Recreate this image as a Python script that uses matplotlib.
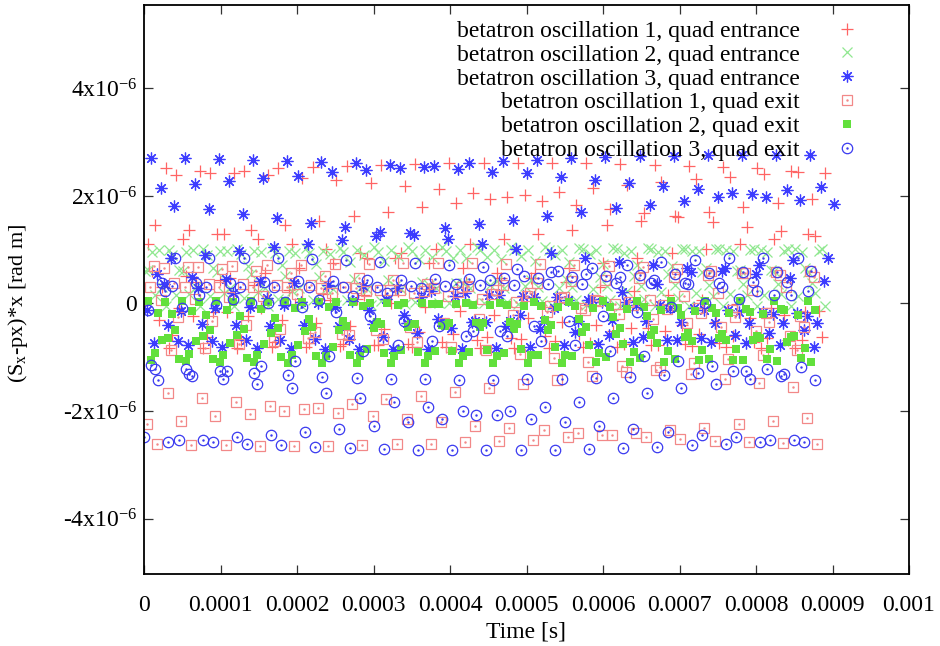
import numpy as np
import matplotlib
matplotlib.use("Agg")
import matplotlib.pyplot as plt

plt.rcParams['font.family'] = ['Liberation Serif', 'DejaVu Serif']
plt.rcParams['mathtext.fontset'] = 'custom'
plt.rcParams['mathtext.rm'] = 'Liberation Serif'
plt.rcParams['mathtext.it'] = 'Liberation Serif:italic'

# sampling of the tracking output: 10 samples make one pattern period
T_SAMPLE = 4.47e-6
N_TRACKS = 10
EXIT_END = 0.000881

# values in units of 1e-6 rad m, one list per sample slot j (sample n = j + 10*i)
osc1_entrance = [
    [-0.01, -0.09, -0.16, -0.23, -0.30, -0.36, -0.42, -0.47, -0.53, -0.57, -0.62, -0.66, -0.70, -0.73, -0.75, -0.78, -0.79, -0.81, -0.82, -0.82],
    [1.11, 1.20, 1.29, 1.37, 1.46, 1.54, 1.63, 1.71, 1.79, 1.86, 1.94, 2.01, 2.07, 2.14, 2.20, 2.26, 2.31, 2.36, 2.40, 2.45],
    [0.60, 0.51, 0.43, 0.34, 0.26, 0.17, 0.09, 0.01, -0.06, -0.14, -0.21, -0.27, -0.34, -0.40, -0.46, -0.51, -0.56, -0.61, -0.65, -0.68],
    [1.46, 1.37, 1.29, 1.20, 1.11, 1.02, 0.93, 0.84, 0.75, 0.66, 0.57, 0.48, 0.40, 0.31, 0.23, 0.15, 0.07, -0.01, -0.09, -0.16],
    [-0.30, -0.23, -0.16, -0.09, -0.01, 0.07, 0.15, 0.23, 0.31, 0.40, 0.48, 0.57, 0.66, 0.75, 0.84, 0.93, 1.02, 1.11, 1.20, 1.29],
    [0.31, 0.40, 0.48, 0.57, 0.66, 0.75, 0.84, 0.93, 1.02, 1.11, 1.20, 1.29, 1.37, 1.46, 1.54, 1.63, 1.71, 1.79, 1.86, 1.94],
    [2.51, 2.47, 2.43, 2.39, 2.34, 2.29, 2.24, 2.18, 2.12, 2.05, 1.98, 1.91, 1.84, 1.76, 1.68, 1.60, 1.52, 1.43, 1.35, 1.26],
    [-0.82, -0.82, -0.82, -0.81, -0.80, -0.79, -0.77, -0.75, -0.72, -0.68, -0.65, -0.60, -0.56, -0.51, -0.46, -0.40, -0.34, -0.27, -0.21, -0.14],
    [-0.59, -0.63, -0.67, -0.71, -0.74, -0.76, -0.78, -0.80, -0.81, -0.82, -0.82, -0.82, -0.81, -0.80, -0.78, -0.76, -0.74, -0.71, -0.67, -0.63],
    [2.39, 2.43, 2.47, 2.51, 2.54, 2.56, 2.58, 2.60, 2.61, 2.62, 2.62, 2.62, 2.61, 2.60, 2.58, 2.56, 2.54, 2.51, 2.47, 2.43],
]

osc2_entrance = [
    [0.61, 0.63, 0.66, 0.69, 0.72, 0.74, 0.77, 0.79, 0.82, 0.84, 0.86, 0.88, 0.90, 0.92, 0.94, 0.96, 0.97, 0.99, 1.00, 1.01],
    [0.63, 0.61, 0.58, 0.55, 0.52, 0.49, 0.46, 0.43, 0.40, 0.38, 0.35, 0.32, 0.29, 0.27, 0.24, 0.22, 0.19, 0.17, 0.15, 0.13],
    [0.95, 0.96, 0.97, 0.97, 0.98, 0.98, 0.99, 0.99, 1.00, 1.00, 1.00, 1.00, 0.99, 0.99, 0.98, 0.98, 0.97, 0.97, 0.96, 0.95],
    [0.15, 0.17, 0.19, 0.22, 0.24, 0.27, 0.29, 0.32, 0.35, 0.38, 0.41, 0.43, 0.46, 0.49, 0.52, 0.55, 0.58, 0.61, 0.63, 0.66],
    [1.00, 0.99, 0.97, 0.96, 0.94, 0.92, 0.90, 0.88, 0.86, 0.84, 0.82, 0.79, 0.77, 0.74, 0.72, 0.69, 0.66, 0.63, 0.61, 0.58],
    [0.31, 0.30, 0.29, 0.28, 0.28, 0.27, 0.27, 0.27, 0.28, 0.28, 0.29, 0.30, 0.31, 0.32, 0.33, 0.34, 0.35, 0.36, 0.37, 0.38],
    [-0.05, -0.05, -0.05, -0.04, -0.04, -0.03, -0.02, -0.01, 0.00, 0.01, 0.02, 0.04, 0.06, 0.07, 0.09, 0.11, 0.13, 0.15, 0.18, 0.20],
    [1.00, 1.01, 1.02, 1.03, 1.04, 1.04, 1.05, 1.05, 1.05, 1.05, 1.05, 1.05, 1.04, 1.03, 1.03, 1.02, 1.01, 0.99, 0.98, 0.97],
    [0.90, 0.91, 0.92, 0.93, 0.94, 0.95, 0.96, 0.97, 0.98, 0.99, 1.00, 1.00, 1.01, 1.01, 1.02, 1.02, 1.02, 1.02, 1.02, 1.02],
    [0.15, 0.13, 0.11, 0.09, 0.07, 0.06, 0.04, 0.02, 0.01, 0.00, -0.01, -0.02, -0.03, -0.04, -0.04, -0.05, -0.05, -0.05, -0.05, -0.05],
]

osc3_entrance = [
    [-0.12, -0.14, -0.09, -0.06, -0.03, 0.01, 0.05, 0.09, 0.12, 0.14, 0.15, 0.14, 0.12, 0.08, 0.03, -0.03, -0.08, -0.12, -0.16, -0.18],
    [2.71, 2.71, 2.69, 2.67, 2.65, 2.63, 2.61, 2.58, 2.54, 2.50, 2.45, 2.43, 2.35, 2.30, 2.24, 2.19, 2.13, 2.06, 1.98, 1.93, 1.85],
    [-0.74, -0.77, -0.80, -0.82, -0.83, -0.84, -0.85, -0.85, -0.85, -0.84, -0.82, -0.80, -0.78, -0.75, -0.72, -0.68, -0.64, -0.59, -0.54, -0.49],
    [0.55, 0.50, 0.46, 0.42, 0.38, 0.35, 0.32, 0.28, 0.24, 0.20, 0.16, 0.12, 0.07, 0.02, -0.03, -0.08, -0.12, -0.16, -0.20, -0.24],
    [2.15, 2.22, 2.28, 2.33, 2.37, 2.45, 2.48, 2.52, 2.56, 2.61, 2.65, 2.67, 2.71, 2.72, 2.74, 2.74, 2.76, 2.76, 2.76, 2.76],
    [0.36, 0.28, 0.19, 0.11, 0.02, -0.06, -0.13, -0.21, -0.28, -0.35, -0.41, -0.47, -0.53, -0.58, -0.62, -0.67, -0.71, -0.74, -0.77, -0.80],
    [-0.40, -0.38, -0.40, -0.41, -0.40, -0.41, -0.38, -0.36, -0.35, -0.33, -0.33, -0.32, -0.33, -0.30, -0.33, -0.35, -0.36, -0.36, -0.37, -0.36],
    [0.85, 0.90, 0.98, 1.05, 1.11, 1.18, 1.26, 1.31, 1.40, 1.48, 1.55, 1.63, 1.70, 1.78, 1.83, 1.90, 1.98, 2.04, 2.11, 2.17],
    [1.81, 1.76, 1.67, 1.59, 1.50, 1.42, 1.33, 1.27, 1.20, 1.11, 1.02, 0.93, 0.85, 0.78, 0.72, 0.66, 0.60, 0.54, 0.48, 0.42],
    [-0.70, -0.70, -0.68, -0.68, -0.66, -0.66, -0.62, -0.55, -0.46, -0.35, -0.22, -0.08, 0.07, 0.22, 0.37, 0.59, 0.66, 0.72, 0.81, 0.85],
]

osc1_exit = [
    [-2.25, -2.19, -2.10, -2.05, -2.00, -1.94, -1.87, -1.78, -1.72, -1.65, -1.57, -1.50, -1.43, -1.35, -1.27, -1.19, -1.11, -1.03, -0.95, -0.87],
    [0.30, 0.31, 0.31, 0.30, 0.30, 0.29, 0.28, 0.26, 0.24, 0.21, 0.18, 0.14, 0.10, 0.06, 0.02, -0.03, -0.08, -0.13, -0.18, -0.23],
    [0.69, 0.67, 0.64, 0.60, 0.57, 0.52, 0.48, 0.43, 0.37, 0.31, 0.25, 0.19, 0.12, 0.05, -0.02, -0.10, -0.18, -0.26, -0.34, -0.43],
    [-2.62, -2.63, -2.64, -2.65, -2.65, -2.65, -2.64, -2.62, -2.61, -2.58, -2.56, -2.53, -2.49, -2.45, -2.41, -2.36, -2.31, -2.25, -2.19, -2.13],
    [0.07, 0.09, 0.12, 0.14, 0.17, 0.20, 0.23, 0.26, 0.29, 0.32, 0.35, 0.38, 0.41, 0.44, 0.47, 0.50, 0.53, 0.56, 0.58, 0.60],
    [0.66, 0.68, 0.70, 0.71, 0.72, 0.73, 0.74, 0.75, 0.75, 0.75, 0.74, 0.73, 0.71, 0.69, 0.67, 0.64, 0.61, 0.57, 0.53, 0.49],
    [-1.67, -1.75, -1.83, -1.90, -1.97, -2.03, -2.09, -2.15, -2.21, -2.27, -2.32, -2.36, -2.40, -2.44, -2.48, -2.52, -2.55, -2.58, -2.60, -2.62],
    [-0.87, -0.82, -0.76, -0.70, -0.64, -0.57, -0.50, -0.43, -0.36, -0.29, -0.22, -0.15, -0.08, -0.01, 0.06, 0.13, 0.19, 0.25, 0.31, 0.37],
    [0.38, 0.37, 0.36, 0.35, 0.34, 0.30, 0.25, 0.20, 0.14, 0.08, 0.02, -0.05, -0.12, -0.20, -0.28, -0.36, -0.44, -0.52, -0.60, -0.68],
    [-0.25, -0.32, -0.40, -0.47, -0.53, -0.59, -0.66, -0.72, -0.80, -0.87, -0.94, -1.01, -1.09, -1.16, -1.24, -1.32, -1.40, -1.47, -1.55, -1.62],
]

osc2_exit = [
    [0.05, 0.05, 0.05, 0.04, 0.04, 0.03, 0.02, 0.01, 0.00, -0.01, -0.03, -0.04, -0.06, -0.08, -0.10, -0.12, -0.14, -0.17, -0.19, -0.21],
    [-1.06, -1.07, -1.08, -1.09, -1.10, -1.10, -1.11, -1.11, -1.11, -1.11, -1.11, -1.10, -1.10, -1.09, -1.09, -1.08, -1.06, -1.05, -1.04, -1.02],
    [-0.93, -0.94, -0.95, -0.96, -0.96, -0.97, -0.97, -0.98, -0.98, -0.98, -0.97, -0.96, -0.95, -0.93, -0.91, -0.89, -0.87, -0.85, -0.84, -0.83],
    [-0.17, -0.14, -0.12, -0.10, -0.08, -0.06, -0.04, -0.03, -0.01, 0.00, 0.01, 0.02, 0.03, 0.04, 0.04, 0.05, 0.05, 0.05, 0.05, 0.05],
    [-0.67, -0.70, -0.73, -0.76, -0.78, -0.81, -0.84, -0.86, -0.89, -0.91, -0.93, -0.95, -0.97, -0.99, -1.01, -1.03, -1.04, -1.06, -1.07, -1.08],
    [0.02, 0.03, 0.03, 0.03, 0.02, 0.02, 0.01, 0.00, -0.01, -0.02, -0.03, -0.04, -0.05, -0.06, -0.07, -0.08, -0.09, -0.10, -0.11, -0.12],
    [-0.64, -0.61, -0.58, -0.55, -0.52, -0.49, -0.46, -0.43, -0.40, -0.37, -0.34, -0.31, -0.29, -0.26, -0.23, -0.21, -0.18, -0.16, -0.13, -0.11],
    [-0.19, -0.21, -0.24, -0.27, -0.29, -0.32, -0.35, -0.38, -0.41, -0.44, -0.47, -0.50, -0.53, -0.56, -0.59, -0.62, -0.65, -0.68, -0.71, -0.74],
    [-0.50, -0.49, -0.47, -0.45, -0.43, -0.41, -0.39, -0.38, -0.37, -0.37, -0.38, -0.40, -0.43, -0.46, -0.50, -0.54, -0.57, -0.60, -0.62, -0.64],
    [-1.04, -1.03, -1.01, -0.99, -0.97, -0.95, -0.93, -0.91, -0.89, -0.86, -0.84, -0.81, -0.78, -0.76, -0.73, -0.70, -0.67, -0.64, -0.61, -0.58],
]

osc3_exit = [
    [-2.49, -2.54, -2.58, -2.61, -2.64, -2.67, -2.69, -2.71, -2.72, -2.73, -2.73, -2.73, -2.72, -2.71, -2.69, -2.67, -2.64, -2.61, -2.58, -2.54],
    [-0.13, -0.08, -0.03, 0.00, 0.03, 0.07, 0.13, 0.20, 0.28, 0.36, 0.44, 0.52, 0.60, 0.66, 0.72, 0.77, 0.81, 0.84, 0.85, 0.85],
    [-1.15, -1.22, -1.26, -1.30, -1.33, -1.36, -1.38, -1.40, -1.41, -1.42, -1.42, -1.41, -1.40, -1.38, -1.36, -1.33, -1.30, -1.26, -1.22, -1.18],
    [-1.22, -1.31, -1.40, -1.49, -1.58, -1.67, -1.75, -1.84, -1.92, -1.99, -2.07, -2.14, -2.21, -2.27, -2.33, -2.39, -2.44, -2.49, -2.54, -2.58],
    [-1.43, -1.34, -1.25, -1.16, -1.07, -0.97, -0.88, -0.78, -0.69, -0.60, -0.51, -0.42, -0.33, -0.24, -0.16, -0.07, 0.01, 0.09, 0.16, 0.23],
    [0.38, 0.38, 0.39, 0.40, 0.41, 0.42, 0.43, 0.44, 0.45, 0.46, 0.47, 0.48, 0.50, 0.51, 0.53, 0.55, 0.57, 0.58, 0.59, 0.60],
    [0.23, 0.16, 0.09, 0.01, -0.07, -0.16, -0.24, -0.33, -0.42, -0.51, -0.60, -0.69, -0.78, -0.88, -0.97, -1.07, -1.16, -1.25, -1.34, -1.43],
    [-2.58, -2.54, -2.49, -2.44, -2.39, -2.33, -2.27, -2.21, -2.14, -2.07, -1.99, -1.92, -1.84, -1.75, -1.67, -1.58, -1.49, -1.40, -1.31, -1.22],
    [0.32, 0.31, 0.31, 0.30, 0.30, 0.30, 0.31, 0.32, 0.33, 0.34, 0.35, 0.36, 0.37, 0.38, 0.38, 0.39, 0.39, 0.40, 0.40, 0.40],
    [0.85, 0.85, 0.85, 0.84, 0.82, 0.80, 0.78, 0.75, 0.72, 0.68, 0.64, 0.59, 0.54, 0.49, 0.43, 0.37, 0.30, 0.23, 0.16, 0.09],
]

# time of the first sample of each data set [s]
t_first = {
    'osc1_entrance': 1.3e-6, 'osc2_entrance': 1.3e-6, 'osc3_entrance': 4.05e-6,
    'osc1_exit': 3.9e-6, 'osc2_exit': 5.2e-6, 'osc3_exit': 0.65e-6,
}

labels = [
    'betatron oscillation 1, quad entrance',
    'betatron oscillation 2, quad entrance',
    'betatron oscillation 3, quad entrance',
    'betatron oscillation 1, quad exit',
    'betatron oscillation 2, quad exit',
    'betatron oscillation 3, quad exit',
]


def samples(tracks, t0, t_end=None):
    t, y = [], []
    for j, track in enumerate(tracks):
        for i, v in enumerate(track):
            t.append(t0 + (j + N_TRACKS * i) * T_SAMPLE)
            y.append(v * 1e-6)
    t, y = np.array(t), np.array(y)
    if t_end is not None:
        keep = t <= t_end
        t, y = t[keep], y[keep]
    return t, y


fig = plt.figure(figsize=(9.4, 6.46), dpi=100)
ax = fig.add_axes([144 / 940, 1 - 574 / 646, 765 / 940, 569 / 646])

styles = [
    (osc1_entrance, 'osc1_entrance', None, dict(marker='+', ms=8, mew=0.9, color='#ff6464')),
    (osc2_entrance, 'osc2_entrance', None, dict(marker='x', ms=6.5, mew=0.9, color='#90e890')),
    (osc3_entrance, 'osc3_entrance', None, dict(marker=(8, 2, 0), ms=8.5, mew=0.9, color='#3c3cff')),
    (osc1_exit, 'osc1_exit', EXIT_END, dict(marker='s', ms=7, mew=0.9, color='#f28888', mfc='none')),
    (osc2_exit, 'osc2_exit', EXIT_END, dict(marker='s', ms=6.3, mew=0, color='#62e03c')),
    (osc3_exit, 'osc3_exit', EXIT_END, dict(marker='o', ms=7.5, mew=0.9, color='#3a3af0', mfc='none')),
]

handles = []
for tracks, key, t_end, st in styles:
    t, y = samples(tracks, t_first[key], t_end)
    h, = ax.plot(t, y, linestyle='none', **st)
    if st.get('mfc') == 'none':
        d, = ax.plot(t, y, linestyle='none', marker='.', ms=1.5, color=st['color'])
        handles.append((h, d))
    else:
        handles.append(h)

ax.set_xlim(0, 0.001)
ax.set_ylim(-5.03e-6, 5.55e-6)

xt = np.arange(0, 11) * 1e-4
ax.set_xticks(xt, ['0'] + ['0.%04d' % k for k in range(1, 10)] + ['0.001'])
ax.set_yticks([-4e-6, -2e-6, 0, 2e-6, 4e-6],
              [r'-4x10$^{\mathregular{-6}}$', r'-2x10$^{\mathregular{-6}}$', '0',
               r'2x10$^{\mathregular{-6}}$', r'4x10$^{\mathregular{-6}}$'])
ax.tick_params(direction='in', length=6.5, width=0.9, top=True, right=True,
               labelsize=17, color='#333333')
ax.tick_params(axis='x', pad=15)
ax.tick_params(axis='y', pad=5)
for s in ax.spines.values():
    s.set_linewidth(1.3)

ax.set_xlabel('Time [s]', fontsize=17)
ax.xaxis.set_label_coords(0.5, (574 - 632) / 569)
ax.xaxis.label.set_va('center')
ax.set_ylabel(r'(S$_{\mathregular{x}}$-px)*x [rad m]', fontsize=16)
ax.yaxis.set_label_coords((18 - 144) / 765, (574 - 303) / 569)
ax.yaxis.label.set_va('center')
ax.yaxis.label.set_ha('center')

ax.legend(handles, labels, loc='upper right', bbox_to_anchor=(892 / 940, 1 + 1 / 646),
          bbox_transform=fig.transFigure, frameon=False, markerfirst=False,
          numpoints=1, fontsize=17, handlelength=2.0, handletextpad=1.0,
          labelspacing=0.1, borderpad=0.4)

fig.savefig('out.png', dpi=100)
